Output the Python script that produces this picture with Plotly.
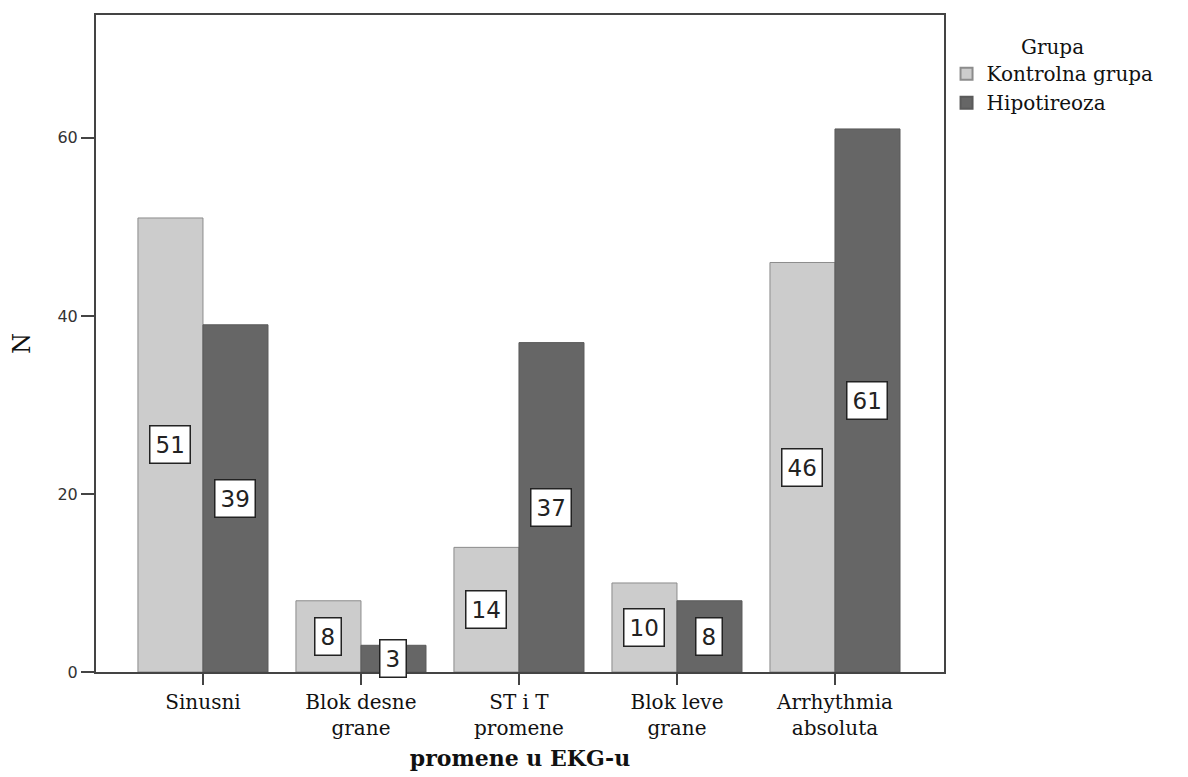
import plotly.graph_objects as go

categories = ["Sinusni", "Blok desne<br>grane", "ST i T<br>promene", "Blok leve<br>grane", "Arrhythmia<br>absoluta"]
kontrolna = [51, 8, 14, 10, 46]
hipotireoza = [39, 3, 37, 8, 61]
y_ticks = [0, 20, 40, 60]

serif = "DejaVu Serif"
fig = go.Figure()
fig.add_trace(go.Bar(x=categories, y=kontrolna, name="Kontrolna grupa",
                     marker=dict(color="#cccccc", line=dict(color="#8c8c8c", width=1))))
fig.add_trace(go.Bar(x=categories, y=hipotireoza, name="Hipotireoza",
                     marker=dict(color="#666666", line=dict(color="#5a5a5a", width=1))))

annotations = []
for i in range(len(categories)):
    for vals, shift in ((kontrolna, -32.5), (hipotireoza, 32.5)):
        annotations.append(dict(x=i, y=vals[i] / 2, xref="x", yref="y", xshift=shift,
                                text=str(vals[i]), showarrow=False,
                                font=dict(family="DejaVu Sans", size=23, color="#222222"),
                                bgcolor="white", bordercolor="#222222", borderwidth=1.5,
                                borderpad=5))

# page body has an 8px margin; figure sized so that the plot area lands where the reference has it
fig.update_layout(
    width=1180, height=769,
    margin=dict(l=88, r=244, t=7, b=105),
    paper_bgcolor="white", plot_bgcolor="white",
    barmode="group", bargap=0.177, bargroupgap=0,
    annotations=annotations,
    legend=dict(x=1.003, y=0.98, xanchor="left", yanchor="top",
                title=dict(text="Grupa", side="top center",
                           font=dict(family=serif, size=20, color="#111111")),
                font=dict(family=serif, size=20, color="#111111"),
                itemsizing="constant", tracegroupgap=0),
    showlegend=True,
)
fig.update_xaxes(type="category", range=[-0.677, 4.69], showline=True, mirror=True,
                 linecolor="#444444", linewidth=2, ticks="outside", ticklen=11,
                 tickcolor="#444444", tickwidth=2, automargin=False,
                 tickfont=dict(family=serif, size=20, color="#111111"),
                 title=dict(text="<b>promene u EKG-u</b>", font=dict(family=serif, size=22, color="#111111"),
                            standoff=12),
                 showgrid=False, zeroline=False)
fig.update_yaxes(range=[0, 73.8], tickvals=y_ticks, showline=True, mirror=True,
                 linecolor="#444444", linewidth=2, ticks="outside", ticklen=13,
                 tickcolor="#444444", tickwidth=2, automargin=False,
                 tickfont=dict(family="DejaVu Sans", size=16, color="#333333"),
                 title=dict(text="N", font=dict(family=serif, size=24, color="#111111"), standoff=42),
                 showgrid=False, zeroline=False)

fig.write_html("out.html")
